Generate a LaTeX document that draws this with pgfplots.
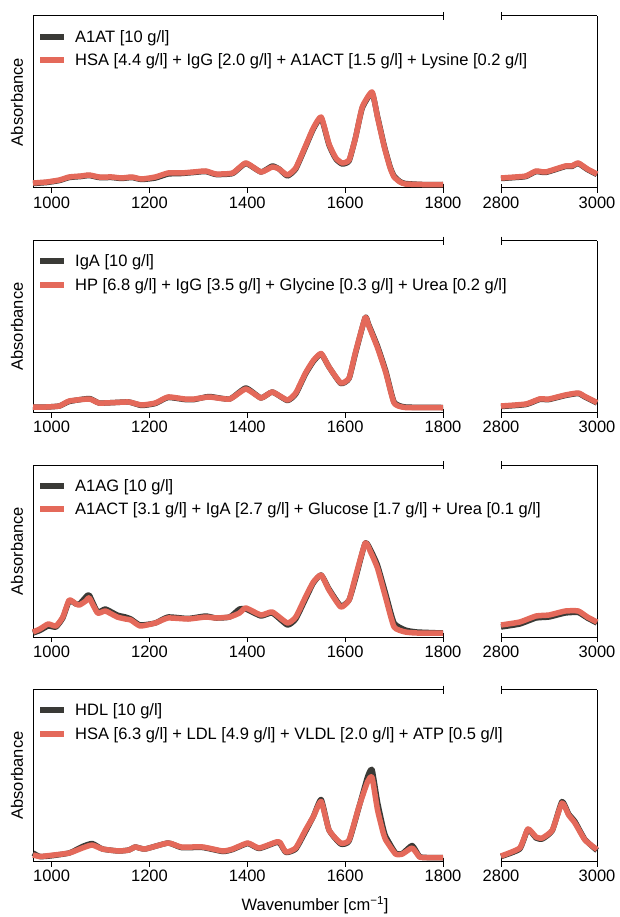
\documentclass[border=0pt]{standalone}
\usepackage{pgfplots}
\usepackage{pgfplotstable}
\usepackage{fontspec}
\setmainfont{Liberation Sans}
\pgfplotsset{compat=1.18}

\definecolor{mixred}{RGB}{228,105,90}
\definecolor{refblk}{RGB}{58,58,54}

% x = wavenumber, r = mixture (red), k = reference protein (black)
\pgfplotstableread{
x r k
962 5 4.5
990 6 5.5
1016 8 7.5
1036 11 10.5
1060 12 11.5
1077 13 12.5
1097 11 10.5
1123 11 10.5
1143 10 9.5
1164 11 10.5
1184 9 8.5
1212 11 10
1238 15 14
1265 15 14.5
1290 16 15.5
1315 17 16.5
1336 14 13.5
1370 15 14.5
1397 25 24.5
1428 16 16
1451 21 22
1465 19 19
1482 13 12
1499 20 19
1519 42 41
1535 60 59
1551 71 70
1567 44 43
1581 30 29
1594 25 24
1608 28 27
1621 50 50
1635 81 80
1655 96 95
1666 71 72
1680 41 42
1692 20 21
1700 11 12
1712 6 6.5
1723 4 4.5
1757 3.5 3.5
1800 3.5 3.5
}\rowAleft
\pgfplotstableread{
x r k
2800 10 9.5
2830 11 10.5
2852 12 11.5
2873 17 16.5
2893 16 15.5
2934 22 21.5
2947 22 21.5
2961 25 24.5
2980 19 18.5
3000 14 13.5
}\rowAright

\pgfplotstableread{
x r k
962 5.5 5.5
989 5.5 5.5
1016 6.5 6.5
1036 11.5 11
1077 13.5 14
1097 9.5 9.5
1130 10 10
1158 10.5 10.5
1184 7.5 7
1212 9.5 9
1238 15.5 15
1272 13.5 13
1292 13.5 13
1322 15.5 16
1364 13.5 13.5
1397 23.5 24.5
1428 14.5 14.5
1451 20.5 20.5
1482 12.5 12
1499 19.5 18.5
1519 39.5 38.5
1535 52 51
1551 59 58.5
1567 45.5 45.5
1591 29.5 29
1608 34.5 34
1621 60 59
1641 95 95
1648 87 88
1666 65 66.5
1683 40 41.5
1700 9.5 10.5
1723 5 5.5
1800 5 5
}\rowBleft
\pgfplotstableread{
x r k
2800 6.5 6
2852 8.5 8
2880 13.5 13
2900 13.5 13
2934 17.5 17
2961 19.5 19
2975 16 15.5
3000 10 9.5
}\rowBright

\pgfplotstableread{
x r k
962 5 4
976 8 6.5
993 13 11
1009 11 10
1023 20 19
1036 37 36
1050 33 33
1057 32 33
1070 36 40
1077 39 42
1094 24 25
1110 26 28
1134 20 22
1151 18 20
1162 17 18
1181 11 12
1212 14 14
1238 19 20
1279 18 18.5
1315 20 21
1336 19 19
1364 20 20
1384 24 28
1397 29 28
1428 22 21
1451 25 24
1482 14 12
1499 20 18
1519 40 38
1535 55 54
1551 62 62
1567 47 48
1591 30 31
1608 37 37
1621 60 58
1641 94 94
1652 85 87
1666 69 72
1683 39 43
1700 10 14
1723 5 7
1747 4 5
1800 4 4
}\rowCleft
\pgfplotstableread{
x r k
2800 12 10
2839 15 13
2873 21 19
2900 22 20
2934 26 24
2961 26 24.5
2980 20 19
3000 15 14
}\rowCright

\pgfplotstableread{
x r k
962 6.5 8.5
976 5 5
996 6 5.5
1036 8.5 8.5
1063 13.5 15
1083 16.5 18
1104 12.5 12.5
1137 10.5 10.5
1158 11.5 11.5
1171 14.5 14.5
1191 12.5 12.5
1238 18.5 18.5
1265 14.5 14
1309 14.5 14
1350 10.5 10
1370 12.5 12
1401 18.5 18
1424 13.5 13
1459 19.5 19
1467 19 18
1479 9.5 9
1499 13.5 12.5
1519 31.5 30
1535 45 45
1551 60 62
1567 31.5 31.5
1591 18.5 17.5
1608 21.5 20.5
1628 54.5 54
1646 80 85
1655 84 92
1666 52 60
1677 30 35
1683 21.5 25
1703 7.5 8.5
1717 7.5 8
1737 13.5 16
1752 4.5 5
1767 4 4
1800 4 4
}\rowDleft
\pgfplotstableread{
x r k
2800 5.5 5
2839 13.5 12.5
2856 32.5 32
2873 24.5 23.5
2886 23.5 22.5
2907 31.5 31
2927 58.5 60
2941 46.5 47.5
2954 38.5 40
2975 21.5 22
3000 12 11
}\rowDright

\pgfplotsset{
  panel/.style={
    scale only axis, height=172pt, ymin=0, ymax=172, ytick=\empty, clip=false,
    axis line style={-, line width=1pt}, tick style={line width=1pt, black},
    tick align=outside, major tick length=5pt, xtick pos=bottom,
    tick label style={font=\fontsize{16.5}{19}\selectfont},
    /pgf/number format/assume math mode=true, /pgf/number format/1000 sep={},
    extra x tick labels={},
    extra x tick style={xtick pos=both, tick align=center, major tick length=8pt},
  },
  leftpanel/.style={
    panel, width=410pt, xmin=962, xmax=1800, xtick={1000,1200,...,1800},
    axis x line*=box, axis y line*=left, extra x ticks={1800},
    ylabel={Absorbance},
    every axis y label/.style={at={([xshift=-16pt]axis description cs:0,0.5)},
      rotate=90, anchor=center, font=\fontsize{16.5}{19}\selectfont},
    legend style={draw=none, fill=none, at={(axis description cs:0,1)}, anchor=north west,
      xshift=4pt, yshift=-12pt, font=\fontsize{16.5}{19}\selectfont,
      row sep=6pt, column sep=6pt, inner sep=0pt},
    legend cell align=left,
    legend image code/.code={\draw[##1, line width=6pt, line cap=butt] (0pt,0pt) -- (24pt,0pt);},
  },
  rightpanel/.style={
    panel, width=96pt, xmin=2800, xmax=3000, xtick={2800,3000},
    axis x line*=box, axis y line*=right, extra x ticks={2800},
  },
  kline/.style={refblk, line width=5.5pt, line join=round, smooth, tension=0.3},
  rline/.style={mixred, line width=5.5pt, line join=round, smooth, tension=0.3},
}

\begin{document}
\begin{tikzpicture}
\path[use as bounding box] (0pt,0pt) rectangle (619pt,-917pt);

% row 1
\begin{axis}[leftpanel, at={(33pt,-188pt)}, anchor=south west]
\addplot[kline] table[x=x, y=k] {\rowAleft};
\addlegendentry{A1AT [10 g/l]}
\addplot[rline] table[x=x, y=r] {\rowAleft};
\addlegendentry{HSA [4.4 g/l] + IgG [2.0 g/l] + A1ACT [1.5 g/l] + Lysine [0.2 g/l]}
\end{axis}
\begin{axis}[rightpanel, at={(501pt,-188pt)}, anchor=south west]
\addplot[kline] table[x=x, y=k] {\rowAright};
\addplot[rline] table[x=x, y=r] {\rowAright};
\end{axis}

% row 2
\begin{axis}[leftpanel, at={(33pt,-412.5pt)}, anchor=south west]
\addplot[kline] table[x=x, y=k] {\rowBleft};
\addlegendentry{IgA [10 g/l]}
\addplot[rline] table[x=x, y=r] {\rowBleft};
\addlegendentry{HP [6.8 g/l] + IgG [3.5 g/l] + Glycine [0.3 g/l] + Urea [0.2 g/l]}
\end{axis}
\begin{axis}[rightpanel, at={(501pt,-412.5pt)}, anchor=south west]
\addplot[kline] table[x=x, y=k] {\rowBright};
\addplot[rline] table[x=x, y=r] {\rowBright};
\end{axis}

% row 3
\begin{axis}[leftpanel, at={(33pt,-637pt)}, anchor=south west]
\addplot[kline] table[x=x, y=k] {\rowCleft};
\addlegendentry{A1AG [10 g/l]}
\addplot[rline] table[x=x, y=r] {\rowCleft};
\addlegendentry{A1ACT [3.1 g/l] + IgA [2.7 g/l] + Glucose [1.7 g/l] + Urea [0.1 g/l]}
\end{axis}
\begin{axis}[rightpanel, at={(501pt,-637pt)}, anchor=south west]
\addplot[kline] table[x=x, y=k] {\rowCright};
\addplot[rline] table[x=x, y=r] {\rowCright};
\end{axis}

% row 4
\begin{axis}[leftpanel, at={(33pt,-861.5pt)}, anchor=south west,
    xlabel={Wavenumber [cm\textsuperscript{−1}]},
    every axis x label/.style={at={(axis description cs:0.688,0)}, anchor=center,
      yshift=-43.5pt, font=\fontsize{16.5}{19}\selectfont}]
\addplot[kline] table[x=x, y=k] {\rowDleft};
\addlegendentry{HDL [10 g/l]}
\addplot[rline] table[x=x, y=r] {\rowDleft};
\addlegendentry{HSA [6.3 g/l] + LDL [4.9 g/l] + VLDL [2.0 g/l] + ATP [0.5 g/l]}
\end{axis}
\begin{axis}[rightpanel, at={(501pt,-861.5pt)}, anchor=south west]
\addplot[kline] table[x=x, y=k] {\rowDright};
\addplot[rline] table[x=x, y=r] {\rowDright};
\end{axis}
\end{tikzpicture}
\end{document}
